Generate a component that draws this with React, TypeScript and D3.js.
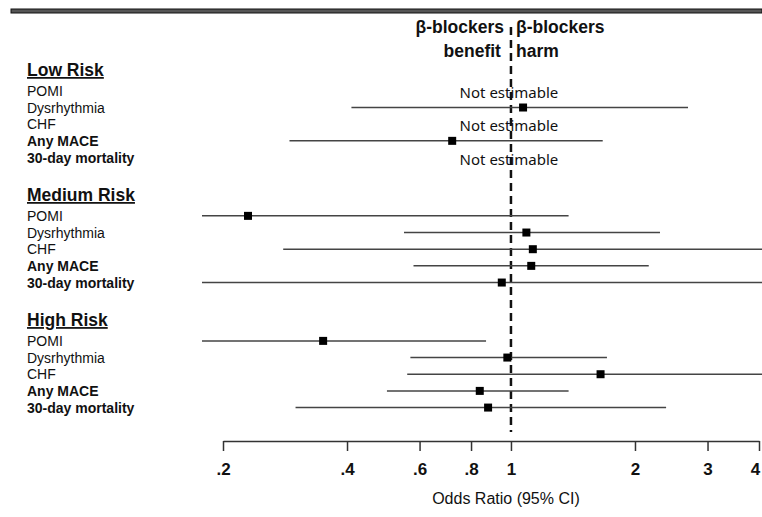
import React, { useEffect, useRef } from 'react';
import * as d3 from 'd3';

const groups = ['Low Risk', 'Medium Risk', 'High Risk'];
const outcomes = ['POMI', 'Dysrhythmia', 'CHF', 'Any MACE', '30-day mortality'];
const boldOutcomes = ['Any MACE', '30-day mortality'];

// odds ratio, lower and upper 95% CI (null = not estimable)
const lowOR = [null, 1.07, null, 0.72, null];
const lowLo = [null, 0.41, null, 0.29, null];
const lowHi = [null, 2.69, null, 1.67, null];

const medOR = [0.23, 1.09, 1.13, 1.12, 0.95];
const medLo = [0.12, 0.55, 0.28, 0.58, 0.12];
const medHi = [1.38, 2.3, 5.5, 2.16, 5.5];

const highOR = [0.35, 0.98, 1.65, 0.84, 0.88];
const highLo = [0.12, 0.57, 0.56, 0.5, 0.3];
const highHi = [0.87, 1.71, 5.5, 1.38, 2.38];

const tickValues = [0.2, 0.4, 0.6, 0.8, 1, 2, 3, 4];
const tickLabels = ['.2', '.4', '.6', '.8', '1', '2', '3', '4'];

const App = () => {
  const svgRef = useRef(null);

  useEffect(() => {
    const svg = d3.select(svgRef.current);
    svg.selectAll('*').remove();
    const font = '"Liberation Sans", Arial, sans-serif';

    const x = d3.scaleLog().domain([0.2, 4]).range([223, 759]);
    // row index -> y
    const y = d3.scaleLinear().domain([0, 1]).range([70, 86.67]);

    const rows = [];
    const series = [[lowOR, lowLo, lowHi], [medOR, medLo, medHi], [highOR, highLo, highHi]];
    series.forEach((s, g) => {
      outcomes.forEach((o, i) => {
        rows.push({ g, name: o, idx: g * 7.5 + 1.25 + i, or: s[0][i], lo: s[1][i], hi: s[2][i] });
      });
    });

    // top rule
    svg.append('rect').attr('x', 11).attr('y', 9).attr('width', 751).attr('height', 4)
      .attr('fill', '#555').attr('stroke', '#111').attr('stroke-width', 1);

    svg.append('defs').append('clipPath').attr('id', 'plotclip')
      .append('rect').attr('x', 202).attr('y', 0).attr('width', 560).attr('height', 517);

    // header
    const hdr = svg.append('g').style('font-family', font).style('font-weight', 'bold')
      .style('font-size', '17.5px').attr('fill', '#111');
    hdr.append('text').attr('x', x(1) - 7).attr('y', 33).attr('text-anchor', 'end').text('β-blockers');
    hdr.append('text').attr('x', x(1) + 5).attr('y', 33).text('β-blockers');
    hdr.append('text').attr('x', x(1) - 10).attr('y', 57).attr('text-anchor', 'end').text('benefit');
    hdr.append('text').attr('x', x(1) + 5).attr('y', 57).text('harm');

    // reference line at OR = 1
    svg.append('line').attr('x1', x(1)).attr('x2', x(1)).attr('y1', 27).attr('y2', 432)
      .attr('stroke', '#111').attr('stroke-width', 2.5).attr('stroke-dasharray', '8,5');

    // group headings
    svg.append('g').selectAll('text').data(groups).join('text')
      .attr('x', 27).attr('y', (d, g) => y(g * 7.5) + 6)
      .style('font-family', font).style('font-size', '17.5px').style('font-weight', 'bold')
      .style('text-decoration', 'underline').attr('fill', '#111').text(d => d);

    // outcome labels
    svg.append('g').selectAll('text').data(rows).join('text')
      .attr('x', 27).attr('y', d => y(d.idx) + 5)
      .style('font-family', font).style('font-size', '14px')
      .style('font-weight', d => (boldOutcomes.includes(d.name) ? 'bold' : 'normal'))
      .attr('fill', '#111').text(d => d.name);

    const est = rows.filter(d => d.or !== null);
    const plot = svg.append('g').attr('clip-path', 'url(#plotclip)');
    plot.selectAll('line.ci').data(est).join('line').attr('class', 'ci')
      .attr('x1', d => x(d.lo)).attr('x2', d => x(d.hi))
      .attr('y1', d => y(d.idx)).attr('y2', d => y(d.idx))
      .attr('stroke', '#444').attr('stroke-width', 1.5);
    plot.selectAll('rect.pt').data(est).join('rect').attr('class', 'pt')
      .attr('x', d => x(d.or) - 4).attr('y', d => y(d.idx) - 4)
      .attr('width', 8).attr('height', 8).attr('fill', '#000');

    svg.append('g').selectAll('text').data(rows.filter(d => d.or === null)).join('text')
      .attr('x', x(1) - 2).attr('y', d => y(d.idx) + 7).attr('text-anchor', 'middle')
      .style('font-family', '"Noto Sans", sans-serif').style('font-size', '15px')
      .attr('fill', '#111').text('Not estimable');

    // axis
    const axis = d3.axisBottom(x).tickValues(tickValues)
      .tickFormat((d, i) => tickLabels[i]).tickSize(10).tickSizeOuter(0).tickPadding(12);
    const ax = svg.append('g').attr('transform', 'translate(0,441)').call(axis);
    ax.select('.domain').attr('stroke', '#333').attr('stroke-width', 1.5);
    ax.selectAll('.tick line').attr('stroke', '#333').attr('stroke-width', 1.5);
    ax.selectAll('.tick text').style('font-family', font).style('font-size', '17px')
      .style('font-weight', 'bold').attr('fill', '#111')
      .attr('dx', (d, i) => (i === tickValues.length - 1 ? -4 : 0));

    svg.append('text').attr('x', x(1) - 5).attr('y', 504).attr('text-anchor', 'middle')
      .style('font-family', font).style('font-size', '16px').attr('fill', '#111')
      .text('Odds Ratio (95% CI)');
  }, []);

  return (
    <svg ref={svgRef} width={762} height={517}
      style={{ position: 'absolute', left: 0, top: 0, background: '#fff' }} />
  );
};

export default App;
